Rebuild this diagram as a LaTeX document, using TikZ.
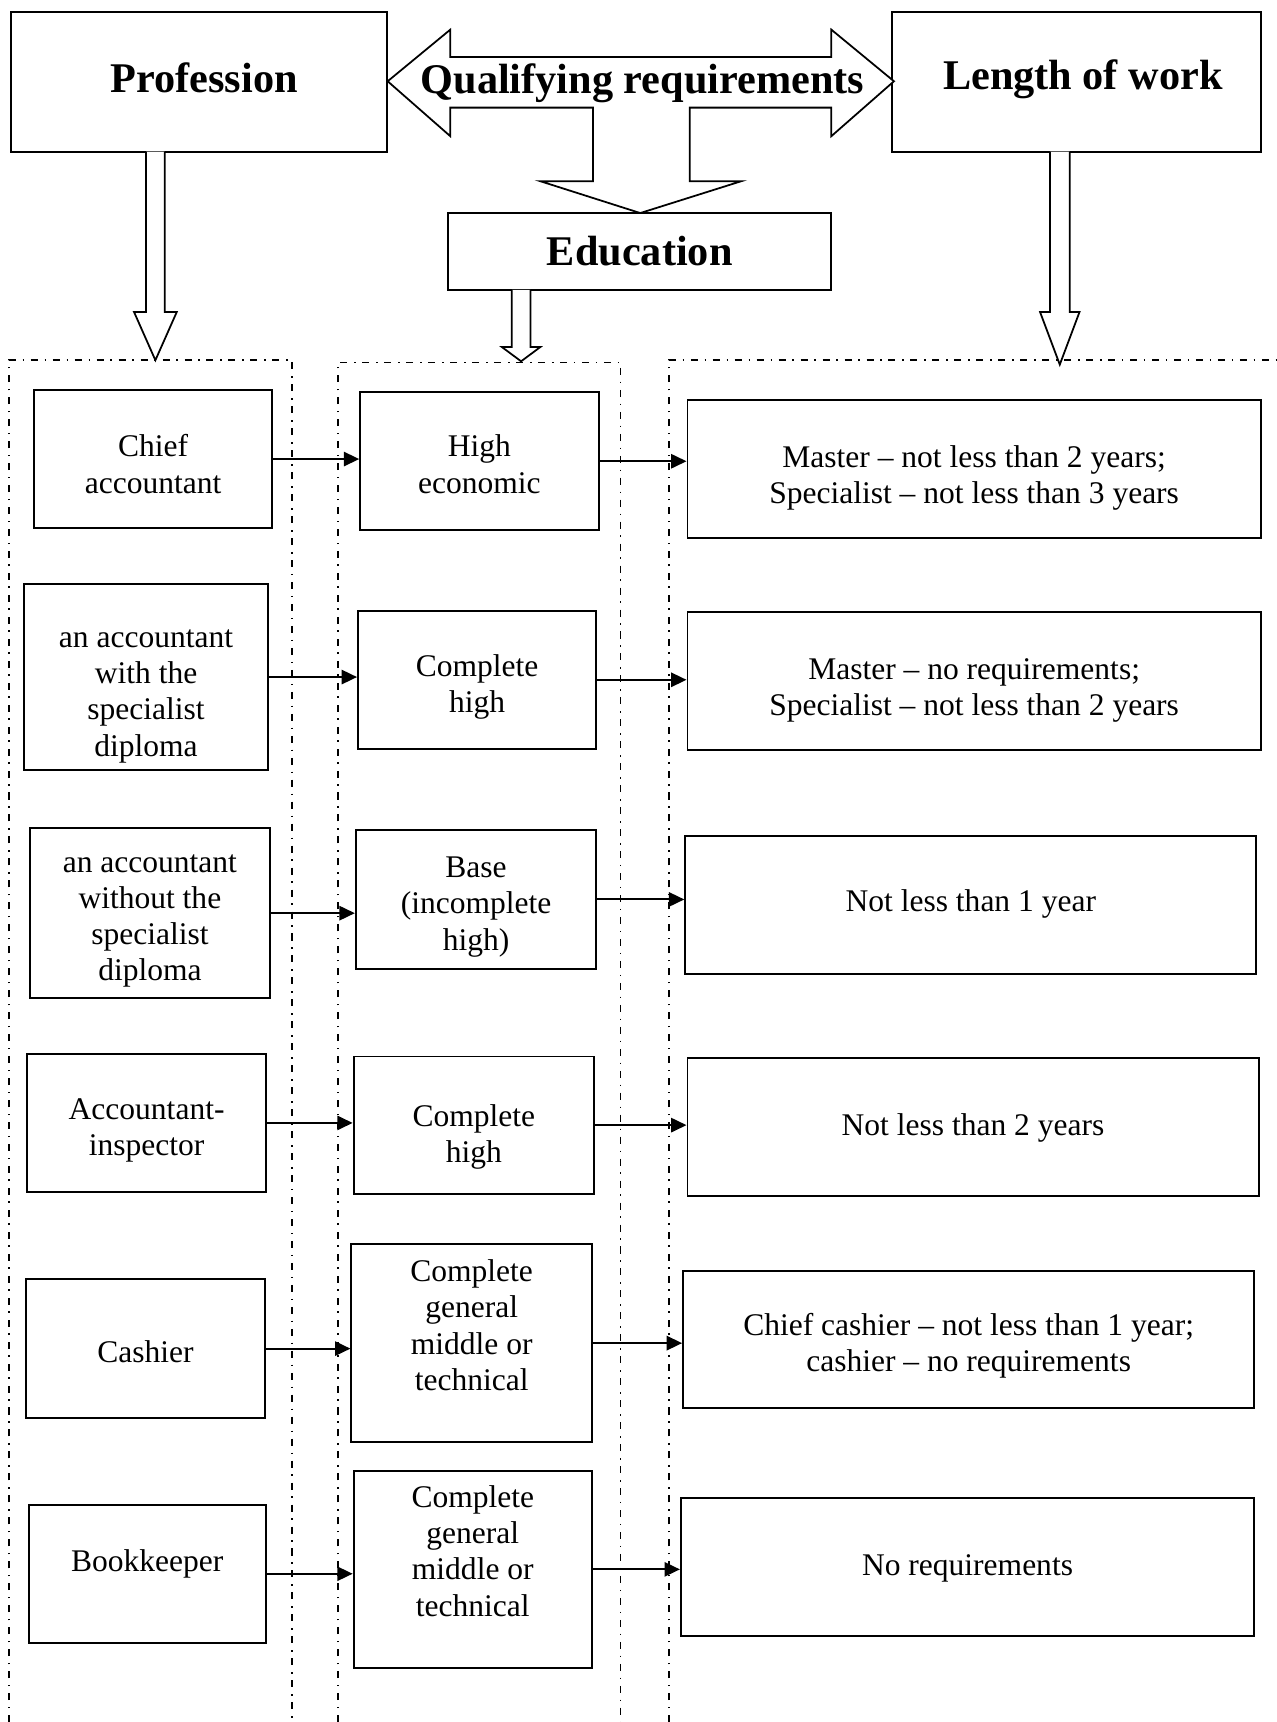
\documentclass[tikz,border=0pt]{standalone}
\usepackage{fontspec}
\setmainfont{Liberation Serif}
\usetikzlibrary{arrows.meta}

% text sizes used in the chart
\newcommand\txtbody{\fontsize{14.35pt}{16.5pt}\selectfont}
\newcommand\txthead{\fontsize{19.25pt}{22pt}\selectfont\bfseries}
% centred multi-line text moved up or down inside its box
\newcommand\lift[2]{\raisebox{#1}[0pt][0pt]{\begin{tabular}{@{}c@{}}#2\end{tabular}}}
% one line of text shifted sideways and up, keeping its box size
\newcommand\nudge[3]{\raisebox{#2}[\height][\depth]{\hspace*{#1}#3\hspace*{-#1}}}

\begin{document}
\begin{tikzpicture}[x=0.5pt, y=-0.5pt,
  box/.style={draw, line width=0.9pt, align=center, inner sep=2pt, font=\txtbody},
  head/.style={draw, line width=0.9pt, align=center, inner sep=2pt, font=\txthead},
  wh/.style 2 args={minimum width=#1*0.5pt, minimum height=#2*0.5pt},
  link/.style={line width=0.9pt, -{Triangle[length=7pt,width=6.5pt]}},
  hollow/.style={draw, line width=0.8pt, fill=white, line join=miter},
  chain/.style={line width=0.7pt, dash pattern=on 3.2pt off 3.1pt on 0.7pt off 3.0pt}]

\useasboundingbox (0,0) rectangle (1162,1568);

% column frames
\draw[chain] (8,1568) -- (8,328) -- (266,328) -- (266,1568);
\draw[chain] (308,1568) -- (308,330) -- (565,330) -- (565,1568);
\draw[chain] (609,1568) -- (609,328) -- (1162,328);

% header boxes
\node[head, wh={342}{127}] (P) at (181,74.5) {\nudge{2.5pt}{2pt}{Profession}};
\node[head, wh={336}{127}] (W) at (980,74.5) {\nudge{3pt}{1pt}{Length of work}};
\node[head, wh={349}{70}] (E) at (582.5,229) {Education};

% double arrow with a branch down to Education
\draw[hollow] (353,74) -- (410,27) -- (410,52) -- (757,52) -- (757,27) -- (814,74)
  -- (757,124) -- (757,98) -- (628,98) -- (628,165) -- (675,165) -- (583,194)
  -- (492,165) -- (540,165) -- (540,98) -- (410,98) -- (410,124) -- cycle;
\node[font=\txthead] (Q) at (585,76) {Qualifying requirements};

% hollow arrows into the columns
\draw[hollow] (133,138) -- (133,284) -- (122,284) -- (141.5,328) -- (161,284) -- (150,284) -- (150,138);
\draw[hollow] (466,264) -- (466,316) -- (457,316) -- (474.5,329) -- (492,316) -- (483,316) -- (483,264);
\draw[hollow] (956,138) -- (956,284) -- (947,284) -- (965,332) -- (983,284) -- (974,284) -- (974,138);

% professions
\node[box, wh={217}{126}] (L1) at (139.5,418) {\lift{-7.6pt}{Chief\\accountant}};
\node[box, wh={222}{169}] (L2) at (133,616.5) {\lift{-11.6pt}{an accountant\\with the\\specialist\\diploma}};
\node[box, wh={219}{155}] (L3) at (136.5,831.5) {\lift{-6.35pt}{an accountant\\without the\\specialist\\diploma}};
\node[box, wh={217}{125}] (L4) at (133.5,1022.5) {\lift{-6.85pt}{Accountant-\\inspector}};
\node[box, wh={217}{126}] (L5) at (132.5,1228) {\lift{-6.6pt}{Cashier}};
\node[box, wh={216}{126}] (L6) at (134,1433) {\lift{0.9pt}{Bookkeeper}};

% education
\node[box, wh={217}{126}] (M1) at (436.5,420) {\lift{-6.6pt}{High\\economic}};
\node[box, wh={217}{126}] (M2) at (434.5,619) {\lift{-7.1pt}{Complete\\high}};
\node[box, wh={219}{126}] (M3) at (433.5,819) {\lift{-6.85pt}{Base\\(incomplete\\high)}};
\node[box, wh={219}{125}] (M4) at (431.5,1024.5) {\lift{-9.1pt}{Complete\\high}};
\node[box, wh={219}{180}] (M5) at (429.5,1223) {\lift{2.9pt}{Complete\\general\\middle or\\technical}};
\node[box, wh={217}{180}] (M6) at (430.5,1429) {\lift{3.15pt}{Complete\\general\\middle or\\technical}};

% length of work
\node[box, wh={522}{126}] (R1) at (887,427) {\lift{-7.85pt}{Master – not less than 2 years;\\Specialist – not less than 3 years}};
\node[box, wh={522}{126}] (R2) at (887,620) {\lift{-7.85pt}{Master – no requirements;\\Specialist – not less than 2 years}};
\node[box, wh={520}{126}] (R3) at (884,824) {\lift{-3.1pt}{Not less than 1 year}};
\node[box, wh={520}{126}] (R4) at (886,1026) {\lift{-4.1pt}{Not less than 2 years}};
\node[box, wh={520}{125}] (R5) at (882,1219.5) {\lift{-6.85pt}{Chief cashier – not less than 1 year;\\cashier – no requirements}};
\node[box, wh={522}{126}] (R6) at (881,1427) {\lift{-4.1pt}{No requirements}};

% row connectors
\foreach \a/\b in {L1/M1, L2/M2, L3/M3, L4/M4, L5/M5, L6/M6,
                   M1/R1, M2/R2, M3/R3, M4/R4, M5/R5, M6/R6}
  \draw[link] (\a.east) -- (\b.west |- \a.east);
\end{tikzpicture}
\end{document}
